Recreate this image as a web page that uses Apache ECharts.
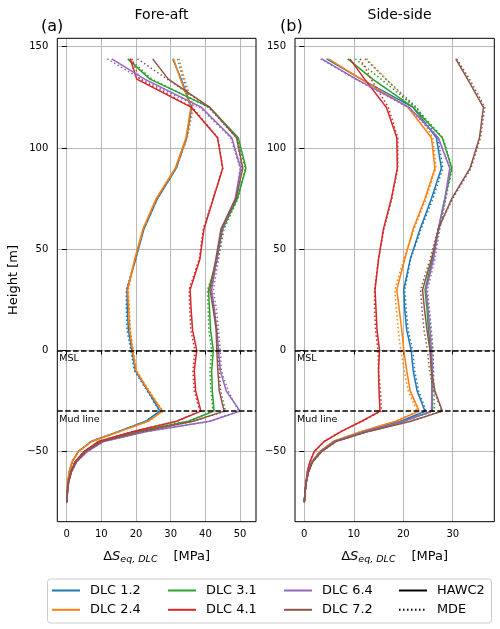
<!DOCTYPE html>
<html>
<head>
<meta charset="utf-8">
<script src="https://cdn.jsdelivr.net/npm/echarts@6/dist/echarts.min.js"></script>
<style>
html,body{margin:0;padding:0;background:#fff;}
#chart{width:500px;height:629px;}
</style>
</head>
<body>
<div id="chart"></div>
<script>
// Heights [m] of the evaluation stations (tower top to pile toe)
const heights = [144,134,120,105,90,75,60,45,30,20,10,0,-10,-20,-30,-35,-40,-45,-50,-55,-60,-65,-70,-75];

const dlcNames = ['DLC 1.2','DLC 2.4','DLC 3.1','DLC 4.1','DLC 6.4','DLC 7.2'];
const methodNames = ['HAWC2','MDE'];
const xTicksFA = [0,10,20,30,40,50];
const xTicksSS = [0,10,20,30];
const yTicks = [-50,0,50,100,150];
const refLines = [0,-30];
const refLabels = ['MSL','Mud line'];

// Fore-aft damage equivalent stress range [MPa]
const faH2_12  = [30.6,33.0,36.0,34.6,31.6,26.2,22.3,19.9,17.4,17.5,17.8,18.8,19.8,23.4,26.9,22.8,15.0,7.0,3.3,1.6,0.75,0.35,0.12,0];
const faMDE_12 = [32.0,33.6,36.3,34.7,31.6,26.1,22.2,19.8,17.2,17.2,17.4,18.5,19.5,23.2,26.8,22.8,15.0,7.0,3.3,1.6,0.75,0.35,0.12,0];
const faH2_24  = [30.8,32.8,35.8,34.4,31.3,25.8,22.0,19.6,17.6,17.9,18.2,19.0,20.0,23.6,27.6,23.5,15.4,7.2,3.35,1.5,0.7,0.3,0.1,0];
const faMDE_24 = [32.4,34.0,36.6,34.8,31.5,26.0,22.1,19.8,17.8,18.1,18.4,19.2,20.2,23.8,27.7,23.5,15.4,7.2,3.35,1.5,0.7,0.3,0.1,0];
const faH2_31  = [17.6,24.0,41.3,49.5,51.7,49.2,45.0,43.3,40.9,41.2,41.5,42.3,41.8,42.0,42.5,35.1,20.2,9.4,5.0,2.5,1.2,0.5,0.2,0];
const faMDE_31 = [18.2,24.5,41.0,49.2,51.5,49.4,45.4,43.7,40.6,40.8,41.0,41.8,41.3,41.6,42.2,35.1,20.2,9.4,5.0,2.5,1.2,0.5,0.2,0];
const faH2_41  = [18.3,20.2,36.0,43.5,45.0,42.3,39.6,38.4,35.6,35.9,36.3,37.5,36.8,37.2,38.7,31.7,19.2,9.1,5.0,2.4,1.2,0.5,0.2,0];
const faMDE_41 = [18.8,21.0,36.3,43.6,45.0,42.2,39.4,38.2,35.3,35.5,35.8,37.0,36.4,36.8,38.4,31.7,19.2,9.1,5.0,2.4,1.2,0.5,0.2,0];
const faH2_64  = [13.0,22.5,38.9,47.6,50.2,48.6,44.7,43.3,41.8,42.6,43.3,43.8,44.3,46.0,50.0,41.3,23.1,10.6,5.9,2.9,1.4,0.6,0.25,0];
const faMDE_64 = [11.7,21.5,38.4,47.3,50.0,48.8,45.2,43.8,42.3,43.2,43.8,44.3,44.6,46.6,49.6,41.3,23.1,10.6,5.9,2.9,1.4,0.6,0.25,0];
const faH2_72  = [24.8,29.3,41.3,49.0,50.8,48.8,44.5,43.0,41.3,42.3,43.1,43.3,43.6,44.0,45.4,36.5,21.6,10.1,5.4,2.7,1.3,0.55,0.2,0];
const faMDE_72 = [20.4,29.0,41.0,49.0,50.6,48.9,44.8,43.3,41.6,42.6,43.4,43.6,44.0,44.4,45.8,36.5,21.6,10.1,5.4,2.7,1.3,0.55,0.2,0];

// Side-side damage equivalent stress range [MPa]
const ssH2_12  = [4.5,11.5,22.0,26.7,27.7,25.7,23.4,21.4,20.1,20.3,20.7,21.6,22.0,22.8,24.4,19.5,12.0,6.0,3.2,1.6,0.8,0.4,0.15,0];
const ssMDE_12 = [12.3,16.5,22.7,27.0,28.0,26.0,23.6,21.5,20.3,20.6,21.0,21.9,22.3,23.1,24.6,19.5,12.0,6.0,3.2,1.6,0.8,0.4,0.15,0];
const ssH2_24  = [4.9,11.5,21.0,25.7,26.4,24.4,22.0,20.3,18.7,19.2,19.7,20.1,20.7,21.4,23.2,18.5,11.5,5.8,3.1,1.5,0.75,0.35,0.12,0];
const ssMDE_24 = [12.6,16.5,22.3,26.0,26.6,24.6,22.2,20.1,18.3,18.6,19.0,19.5,20.2,21.0,22.8,18.5,11.5,5.8,3.1,1.5,0.75,0.35,0.12,0];
const ssH2_31  = [8.8,13.8,22.0,27.9,29.8,28.4,27.1,25.9,24.4,24.8,25.1,25.5,25.7,25.8,25.9,20.0,12.3,6.1,3.3,1.6,0.8,0.4,0.15,0];
const ssMDE_31 = [10.3,15.5,22.5,28.0,29.9,28.6,27.3,26.0,24.7,25.2,25.6,26.0,26.1,26.2,26.3,20.0,12.3,6.1,3.3,1.6,0.8,0.4,0.15,0];
const ssH2_41  = [9.2,12.2,16.6,18.7,18.8,17.6,16.0,15.0,14.3,14.5,14.7,15.2,15.0,15.1,15.3,11.6,7.5,4.0,2.0,1.15,0.6,0.35,0.15,0];
const ssMDE_41 = [11.3,13.5,17.0,18.9,18.9,17.7,16.1,15.0,14.2,14.2,14.4,14.9,15.0,15.4,15.6,11.6,7.5,4.0,2.0,1.15,0.6,0.35,0.15,0];
const ssH2_64  = [3.5,10.5,21.2,27.1,29.4,28.4,27.1,26.1,24.6,25.0,25.4,25.7,25.9,25.8,25.7,20.0,12.3,6.1,3.3,1.6,0.8,0.4,0.15,0];
const ssMDE_64 = [3.3,10.3,21.0,27.0,29.5,28.6,27.4,26.4,24.9,25.3,25.7,26.0,26.1,26.0,25.9,20.0,12.3,6.1,3.3,1.6,0.8,0.4,0.15,0];
const ssH2_72  = [30.6,33.0,36.2,35.4,33.5,29.8,27.1,25.7,23.9,24.3,24.8,25.4,25.7,26.4,27.9,21.5,13.0,6.4,3.5,1.7,0.85,0.4,0.15,0];
const ssMDE_72 = [30.8,33.4,36.5,35.6,33.7,30.0,27.0,25.4,23.5,23.8,24.2,24.9,25.3,26.2,27.8,21.5,13.0,6.4,3.5,1.7,0.85,0.4,0.15,0];

const colors = ['#1f77b4','#ff7f0e','#2ca02c','#d62728','#9467bd','#8c564b'];
const FONT = 'DejaVu Sans';
const DOT = [1.5, 2.5];

const panels = [
  { h2: [faH2_12, faH2_24, faH2_31, faH2_41, faH2_64, faH2_72],
    mde: [faMDE_12, faMDE_24, faMDE_31, faMDE_41, faMDE_64, faMDE_72] },
  { h2: [ssH2_12, ssH2_24, ssH2_31, ssH2_41, ssH2_64, ssH2_72],
    mde: [ssMDE_12, ssMDE_24, ssMDE_31, ssMDE_41, ssMDE_64, ssMDE_72] }
];

function pairs(vals){ return heights.map((h,k)=>[vals[k], h]); }

const series = [];
panels.forEach((p, pi) => {
  for (let i = 0; i < dlcNames.length; i++) {
    series.push({
      type:'line', name: dlcNames[i], xAxisIndex: pi, yAxisIndex: pi,
      data: pairs(p.h2[i]), symbol:'none', showSymbol:false, silent:true,
      lineStyle:{color: colors[i], width:1.5}, itemStyle:{color: colors[i]}, z: 2
    });
    series.push({
      type:'line', name: dlcNames[i], xAxisIndex: pi, yAxisIndex: pi,
      data: pairs(p.mde[i]), symbol:'none', showSymbol:false, silent:true,
      lineStyle:{color: colors[i], width:1.5, type: DOT, cap:'butt'}, itemStyle:{color: colors[i]}, z: 2
    });
  }
  series.push({
    type:'line', name:'ref'+pi, xAxisIndex: pi, yAxisIndex: pi, data: [], symbol:'none', silent:true, z: 3,
    markLine: {
      silent:true, symbol:['none','none'], animation:false,
      lineStyle:{color:'#000', width:1.5, type:[5.5,2.4]},
      label:{show:true, position:'insideStartBottom', color:'#000', fontFamily:FONT, fontSize:9.5, distance:[2,3]},
      data: refLines.map((v,k)=>({yAxis: v, label:{formatter: refLabels[k]}}))
    }
  });
});
series.push({type:'line', name: methodNames[0], xAxisIndex:0, yAxisIndex:0, data:[], symbol:'none',
  lineStyle:{color:'#000', width:1.5}, itemStyle:{color:'#000'}});
series.push({type:'line', name: methodNames[1], xAxisIndex:0, yAxisIndex:0, data:[], symbol:'none',
  lineStyle:{color:'#000', width:1.5, type:DOT}, itemStyle:{color:'#000'}});

const minus = v => String(v).replace('-', '\u2212');

function xAxisCfg(idx, min, max, ticks){
  return {
    type:'value', gridIndex: idx, min, max,
    axisLine:{show:false},
    axisTick:{show:true, customValues: ticks, length:4, lineStyle:{color:'#000', width:1}},
    axisLabel:{customValues: ticks, color:'#000', fontFamily:FONT, fontSize:10, margin:8, formatter: minus},
    splitLine:{show:true, lineStyle:{color:'#b0b0b0', width:0.9}},
    name:'{a|\u0394}{b|S}{c|eq, DLC}{d|[MPa]}', nameLocation:'middle', nameGap:27,
    nameTextStyle:{ rich:{
      a:{fontFamily:FONT, fontSize:13, color:'#000', lineHeight:16},
      b:{fontFamily:FONT, fontSize:13, fontStyle:'italic', color:'#000', lineHeight:16},
      c:{fontFamily:FONT, fontSize:9.5, fontStyle:'italic', color:'#000', lineHeight:9, verticalAlign:'bottom'},
      d:{fontFamily:FONT, fontSize:13, color:'#000', lineHeight:16, padding:[0,0,0,16]}
    }}
  };
}
function yAxisCfg(idx, withName){
  const c = {
    type:'value', gridIndex: idx, min:-84.6, max:154.15,
    axisLine:{show:false},
    axisTick:{show:true, customValues: yTicks, length:5, lineStyle:{color:'#000', width:1}},
    axisLabel:{customValues: yTicks, color:'#000', fontFamily:FONT, fontSize:10, margin:9, formatter: minus},
    splitLine:{show:true, lineStyle:{color:'#b0b0b0', width:0.9}}
  };
  if (withName) {
    c.name = 'Height [m]'; c.nameLocation = 'middle'; c.nameGap = 37;
    c.nameTextStyle = {fontFamily:FONT, fontSize:13, color:'#000'};
  }
  return c;
}

const legendCols = [[dlcNames[0], dlcNames[1]], [dlcNames[2], dlcNames[3]], [dlcNames[4], dlcNames[5]], methodNames];
const legendLefts = [51, 167, 283, 398];

const option = {
  animation:false,
  backgroundColor:'#fff',
  title:[
    {text:'Fore-aft', left:156.5, top:3, textAlign:'center', textStyle:{fontFamily:FONT, fontSize:14, fontWeight:'normal', color:'#000'}},
    {text:'Side-side', left:394.6, top:3, textAlign:'center', textStyle:{fontFamily:FONT, fontSize:14, fontWeight:'normal', color:'#000'}},
    {text:'(a)', left:36, top:14, textStyle:{fontFamily:FONT, fontSize:16, fontWeight:'normal', color:'#000'}},
    {text:'(b)', left:275, top:14, textStyle:{fontFamily:FONT, fontSize:16, fontWeight:'normal', color:'#000'}}
  ],
  grid:[
    {left:57.3, top:38.3, width:198.7, height:483.4, show:true, borderColor:'#000', borderWidth:1, backgroundColor:'transparent', z:3},
    {left:295, top:38.3, width:199.3, height:483.4, show:true, borderColor:'#000', borderWidth:1, backgroundColor:'transparent', z:3}
  ],
  xAxis:[ xAxisCfg(0, -2.71, 54.6, xTicksFA), xAxisCfg(1, -1.88, 38.4, xTicksSS) ],
  yAxis:[ yAxisCfg(0, true), yAxisCfg(1, false) ],
  legend: legendCols.map((names, k) => ({
    data: names, orient:'vertical', left: legendLefts[k], top:584, padding:0,
    itemWidth:28, itemHeight:10, itemGap:6.3, selectedMode:false,
    itemStyle:{opacity:0},
    lineStyle:{width:2},
    textStyle:{fontFamily:FONT, fontSize:12.9, color:'#000', lineHeight:13, padding:[0,0,0,5]}
  })),
  graphic:[{
    type:'rect', left:47, top:578.5, z:-1,
    shape:{width:444, height:44, r:3},
    style:{fill:'#fff', stroke:'#cccccc', lineWidth:1}
  }],
  series
};

const chart = echarts.init(document.getElementById('chart'), null, {renderer:'canvas'});
chart.setOption(option);
</script>
</body>
</html>
